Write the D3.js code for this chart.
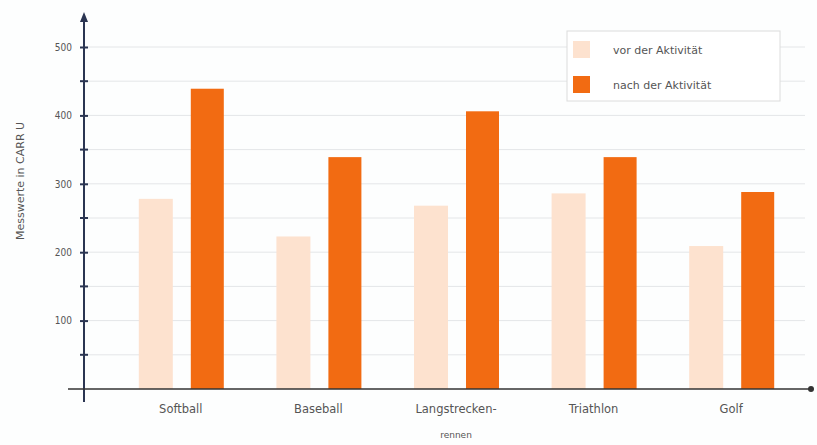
<!DOCTYPE html>
<html>
<head>
<meta charset="utf-8">
<title>Messwerte vor und nach der Aktivität</title>
<script src="https://d3js.org/d3.v7.min.js"></script>
<style>
  body { margin: 0; background: #fdfefe; }
  svg { display: block; font-family: "DejaVu Sans", sans-serif; }
</style>
</head>
<body>
<div id="chart"></div>
<script>
// data
const categories = ["Softball", "Baseball", "Langstrecken-|rennen", "Triathlon", "Golf"];
const vorValues = [278, 223, 268, 286, 209];
const nachValues = [439, 339, 406, 339, 288];
const seriesNames = ["vor der Aktivität", "nach der Aktivität"];
const yTicks = [100, 200, 300, 400, 500];
const colors = ["#fde2cf", "#f26b12"];

const W = 817, H = 445;
const svg = d3.select("#chart").append("svg").attr("width", W).attr("height", H);

const x = d3.scaleBand().domain(categories).range([112, 800]);
const y = d3.scaleLinear().domain([0, 500]).range([389, 47]);
const x0 = 84;

// grid lines every 50
svg.append("g").selectAll("line")
  .data(d3.range(50, 501, 50))
  .join("line")
  .attr("x1", x0).attr("x2", 805)
  .attr("y1", d => y(d)).attr("y2", d => y(d))
  .attr("stroke", "#e4e6e8").attr("stroke-width", 1);

// bars
const groups = svg.append("g").selectAll("g")
  .data(categories)
  .join("g")
  .attr("transform", d => `translate(${x(d) + x.bandwidth() / 2},0)`);

groups.append("rect")
  .attr("x", -42).attr("width", 34)
  .attr("y", (d, i) => y(vorValues[i]))
  .attr("height", (d, i) => y(0) - y(vorValues[i]))
  .attr("fill", colors[0]);

groups.append("rect")
  .attr("x", 10).attr("width", 33)
  .attr("y", (d, i) => y(nachValues[i]))
  .attr("height", (d, i) => y(0) - y(nachValues[i]))
  .attr("fill", colors[1]);

// y axis
const yAxis = svg.append("g")
  .attr("transform", `translate(${x0},0)`)
  .call(d3.axisLeft(y).tickValues(yTicks).tickSize(4).tickPadding(8));
yAxis.select(".domain").remove();
yAxis.selectAll(".tick line").attr("stroke", "#2b3552").attr("stroke-width", 2).attr("x2", 4).attr("x1", -4);
yAxis.selectAll(".tick text").attr("font-size", 10).attr("fill", "#555").attr("font-family", "DejaVu Sans Condensed, DejaVu Sans");

svg.append("g").selectAll("line")
  .data(d3.range(50, 500, 100))
  .join("line")
  .attr("x1", x0 - 4).attr("x2", x0 + 4)
  .attr("y1", d => y(d)).attr("y2", d => y(d))
  .attr("stroke", "#2b3552").attr("stroke-width", 2);

svg.append("line")
  .attr("x1", x0).attr("x2", x0)
  .attr("y1", 402).attr("y2", 18)
  .attr("stroke", "#2b3552").attr("stroke-width", 2);
svg.append("path")
  .attr("d", `M${x0 - 4},22 L${x0},12 L${x0 + 4},22 Z`)
  .attr("fill", "#2b3552");

// x axis
svg.append("line")
  .attr("x1", 68).attr("x2", 810)
  .attr("y1", y(0)).attr("y2", y(0))
  .attr("stroke", "#333").attr("stroke-width", 1.5);
svg.append("circle").attr("cx", 811).attr("cy", y(0)).attr("r", 3).attr("fill", "#333");

// category labels
const lab = svg.append("g").selectAll("text")
  .data(categories)
  .join("text")
  .attr("x", d => x(d) + x.bandwidth() / 2)
  .attr("y", 413)
  .attr("text-anchor", "middle")
  .attr("fill", "#555");
lab.each(function (d) {
  const parts = d.split("|");
  d3.select(this).selectAll("tspan")
    .data(parts)
    .join("tspan")
    .attr("x", x(d) + x.bandwidth() / 2)
    .attr("dy", (p, i) => i === 0 ? 0 : 25)
    .attr("font-size", (p, i) => i === 0 ? 11.5 : 9)
    .text(p => p);
});

// y title
svg.append("text")
  .attr("transform", "translate(24,181) rotate(-90)")
  .attr("text-anchor", "middle")
  .attr("font-size", 11)
  .attr("fill", "#555")
  .text("Messwerte in CARR U");

// legend
const leg = svg.append("g");
leg.append("rect")
  .attr("x", 567).attr("y", 31).attr("width", 213).attr("height", 70)
  .attr("fill", "#fff").attr("stroke", "#dcdcdc");
seriesNames.forEach((s, i) => {
  leg.append("rect")
    .attr("x", 573).attr("y", 41 + i * 35).attr("width", 17).attr("height", 17)
    .attr("fill", colors[i]);
  leg.append("text")
    .attr("x", 613).attr("y", 54 + i * 35)
    .attr("font-size", 11).attr("fill", "#555")
    .text(s);
});
</script>
</body>
</html>
